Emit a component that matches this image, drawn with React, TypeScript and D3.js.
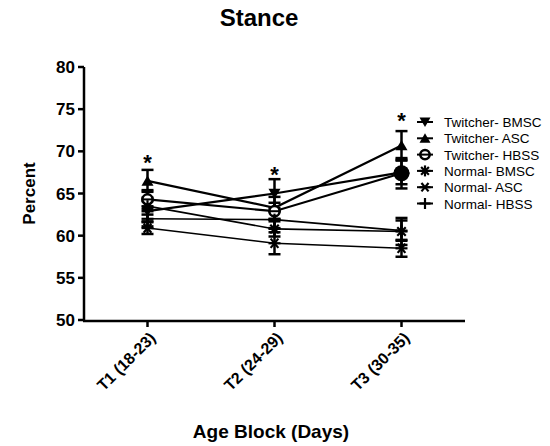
import React from "react";
import * as d3 from "d3";

const categories = ["T1 (18-23)", "T2 (24-29)", "T3 (30-35)"];
const seriesNames = [
  "Twitcher- BMSC",
  "Twitcher- ASC",
  "Twitcher- HBSS",
  "Normal- BMSC",
  "Normal- ASC",
  "Normal- HBSS",
];
const twBMSC = [62.9, 65.0, 67.5];
const twASC = [66.5, 63.3, 70.7];
const twHBSS = [64.3, 62.9, 67.4];
const nBMSC = [63.5, 60.8, 60.5];
const nASC = [60.9, 59.1, 58.5];
const nHBSS = [62.0, 61.9, 60.6];
const errTwBMSC = [1.2, 1.7, 1.4];
const errTwASC = [1.3, 1.3, 1.7];
const errTwHBSS = [1.1, 1.0, 1.8];
const errNBMSC = [1.0, 0.9, 1.6];
const errNASC = [0.7, 1.3, 1.0];
const errNHBSS = [0.9, 1.0, 1.2];
const yTicks = [50, 55, 60, 65, 70, 75, 80];
const starValues = [69.0, 67.6, 74.0];

const seriesValues = [twBMSC, twASC, twHBSS, nBMSC, nASC, nHBSS];
const seriesErrors = [errTwBMSC, errTwASC, errTwHBSS, errNBMSC, errNASC, errNHBSS];
const markerKinds = ["triDown", "triUp", "circle", "star8", "star6", "plus"];

const FONT = "Liberation Sans, Arial, sans-serif";

function Marker({ kind, x, y, s = 6, filled = false }: { kind: string; x: number; y: number; s?: number; filled?: boolean }) {
  switch (kind) {
    case "triDown":
      return <path d={`M${x - s},${y - s * 0.8} L${x + s},${y - s * 0.8} L${x},${y + s * 0.9} Z`} fill="#000" />;
    case "triUp":
      return <path d={`M${x - s},${y + s * 0.8} L${x + s},${y + s * 0.8} L${x},${y - s * 0.9} Z`} fill="#000" />;
    case "circle":
      return (
        <g>
          <circle cx={x} cy={y} r={s * 0.85} fill={filled ? "#000" : "#fff"} stroke="#000" strokeWidth={2.5} />
          <line x1={x - s} x2={x + s} y1={y} y2={y} stroke="#000" strokeWidth={2} />
        </g>
      );
    case "star8": {
      const r = s;
      const lines = [0, 45, 90, 135].map((a) => {
        const rad = (a * Math.PI) / 180;
        return (
          <line key={a} x1={x - r * Math.cos(rad)} y1={y - r * Math.sin(rad)} x2={x + r * Math.cos(rad)} y2={y + r * Math.sin(rad)} stroke="#000" strokeWidth={2.2} />
        );
      });
      return <g>{lines}</g>;
    }
    case "star6": {
      const r = s;
      const lines = [0, 50, 130].map((a) => {
        const rad = (a * Math.PI) / 180;
        return (
          <line key={a} x1={x - r * Math.cos(rad)} y1={y - r * Math.sin(rad)} x2={x + r * Math.cos(rad)} y2={y + r * Math.sin(rad)} stroke="#000" strokeWidth={2.2} />
        );
      });
      return <g>{lines}</g>;
    }
    case "plus":
    default:
      return (
        <g>
          <line x1={x - s} x2={x + s} y1={y} y2={y} stroke="#000" strokeWidth={2.2} />
          <line x1={x} x2={x} y1={y - s} y2={y + s} stroke="#000" strokeWidth={2.2} />
        </g>
      );
  }
}

export default function App() {
  const x = d3.scalePoint<string>().domain(categories).range([84, 465]).padding(0.5);
  const y = d3.scaleLinear().domain([50, 80]).range([320, 67]);
  const line = d3
    .line<number>()
    .x((_, i) => x(categories[i]) as number)
    .y((v) => y(v));

  const legendX = 425;
  const legendY0 = 122;
  const legendStep = 16.3;

  return (
    <svg width={550} height={446} style={{ position: "absolute", left: 0, top: 0, background: "#fff" }} fontFamily={FONT}>
      <rect width={550} height={446} fill="#fff" />
      <text x={259} y={26} textAnchor="middle" fontSize={24} fontWeight="bold">Stance</text>

      {/* error bars */}
      {seriesValues.map((vals, si) =>
        vals.map((v, i) => {
          const cx = x(categories[i]) as number;
          const e = seriesErrors[si][i];
          return (
            <g key={`e${si}-${i}`} stroke="#000" strokeWidth={2.5}>
              <line x1={cx} x2={cx} y1={y(v - e)} y2={y(v + e)} />
              <line x1={cx - 6} x2={cx + 6} y1={y(v + e)} y2={y(v + e)} />
              <line x1={cx - 6} x2={cx + 6} y1={y(v - e)} y2={y(v - e)} />
            </g>
          );
        })
      )}

      {/* lines */}
      {seriesValues.map((vals, si) => (
        <path key={`l${si}`} d={line(vals) as string} fill="none" stroke="#000" strokeWidth={si < 3 ? 2.2 : 1.6} />
      ))}

      {/* markers */}
      {seriesValues.map((vals, si) =>
        vals.map((v, i) => (
          <Marker
            key={`m${si}-${i}`}
            kind={markerKinds[si]}
            x={x(categories[i]) as number}
            y={y(v)}
            s={si === 2 && i === 2 ? 8 : 6}
            filled={si === 2 && i === 2}
          />
        ))
      )}

      {/* significance stars */}
      {starValues.map((v, i) => (
        <text key={`s${i}`} x={x(categories[i]) as number} y={y(v) + 10} textAnchor="middle" fontSize={22} fontWeight="bold">*</text>
      ))}

      {/* y axis */}
      <line x1={84} x2={84} y1={y(80)} y2={y(50) + 1.2} stroke="#000" strokeWidth={2.5} />
      {yTicks.map((t) => (
        <g key={`yt${t}`}>
          <line x1={78} x2={84} y1={y(t)} y2={y(t)} stroke="#000" strokeWidth={2.5} />
          <text x={75} y={y(t) + 6} textAnchor="end" fontSize={17} fontWeight="bold">{t}</text>
        </g>
      ))}
      <text transform={`translate(35,${y(65)}) rotate(-90)`} textAnchor="middle" fontSize={17} fontWeight="bold">Percent</text>

      {/* x axis */}
      <line x1={83} x2={465} y1={321} y2={321} stroke="#000" strokeWidth={2.5} />
      {categories.map((c) => {
        const cx = x(c) as number;
        return (
          <g key={`xt${c}`}>
            <line x1={cx} x2={cx} y1={321} y2={327} stroke="#000" strokeWidth={2.5} />
            <text transform={`translate(${cx + 9},${339}) rotate(-45)`} textAnchor="end" fontSize={16} fontWeight="bold">{c}</text>
          </g>
        );
      })}
      <text x={271} y={438} textAnchor="middle" fontSize={19} fontWeight="bold">Age Block (Days)</text>

      {/* legend */}
      {seriesNames.map((n, i) => {
        const ly = legendY0 + i * legendStep;
        return (
          <g key={`lg${i}`}>
            <line x1={legendX - 8} x2={legendX + 8} y1={ly} y2={ly} stroke="#000" strokeWidth={2} />
            <Marker kind={markerKinds[i]} x={legendX} y={ly} s={5.5} />
            <text x={legendX + 19} y={ly + 5} fontSize={13.5}>{n}</text>
          </g>
        );
      })}
    </svg>
  );
}
